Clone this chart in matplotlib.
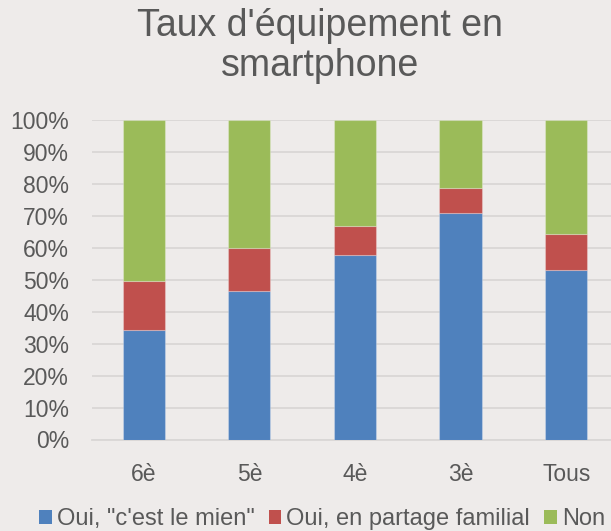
import matplotlib
matplotlib.use("Agg")
import matplotlib.pyplot as plt
from matplotlib.patches import Patch
import numpy as np

categories = ["6è", "5è", "4è", "3è", "Tous"]
oui_mien = [34.3, 46.5, 57.7, 70.8, 52.9]
oui_partage = [15.4, 13.3, 9.2, 8.0, 11.3]
non = [100 - a - b for a, b in zip(oui_mien, oui_partage)]
series_names = ['Oui, "c\'est le mien"', "Oui, en partage familial", "Non"]
yticks = list(range(0, 101, 10))
ytick_labels = [f"{v}%" for v in yticks]

plt.rcParams["font.family"] = ["Liberation Sans", "DejaVu Sans"]
bg = "#EEEBEA"
txt = "#595959"
colors = ["#4F81BD", "#C0504D", "#9BBB59"]

W, H = 611, 531
fig = plt.figure(figsize=(W / 100, H / 100), dpi=100, facecolor=bg)
ax = fig.add_axes([92 / W, 1 - 439.5 / H, 1 - 92 / W, (439.5 - 120) / H])
ax.set_facecolor(bg)

x = np.arange(len(categories))
bottom = np.zeros(len(categories))
for vals, c in zip([oui_mien, oui_partage, non], colors):
    ax.bar(x, vals, width=0.4, bottom=bottom, color=c, zorder=3,
           edgecolor=(1, 1, 1, 0.25), linewidth=0.8)
    bottom += np.array(vals)

ax.set_xlim(-0.49, 4.424)
ax.set_ylim(0, 100)
ax.set_yticks(yticks)
ax.set_yticklabels(ytick_labels)
ax.set_xticks(x)
ax.set_xticklabels(categories)
ax.grid(axis="y", color="#D9D7D6", linewidth=1.3, zorder=0)
ax.tick_params(axis="both", length=0, labelsize=16.5, colors=txt)
ax.tick_params(axis="y", pad=16.5)
ax.tick_params(axis="x", pad=17)
for s in ["top", "right", "left"]:
    ax.spines[s].set_visible(False)
ax.spines["bottom"].set_color("#D9D7D6")
ax.spines["bottom"].set_linewidth(1.3)

fig.text(320 / W, 1 - 36 / H, "Taux d'équipement en", ha="center",
         va="baseline", fontsize=27, color=txt)
fig.text(320 / W, 1 - 76 / H, "smartphone", ha="center",
         va="baseline", fontsize=27, color=txt)

handles = [Patch(facecolor=c, edgecolor="none") for c in colors]
leg = fig.legend(handles, series_names, loc="center left",
                 bbox_to_anchor=(39 / W, 1 - 519 / H), ncol=3, frameon=False,
                 fontsize=17, handlelength=0.54, handleheight=0.54,
                 handletextpad=0.21, columnspacing=0.6, borderaxespad=0,
                 borderpad=0)
for t in leg.get_texts():
    t.set_color(txt)

fig.savefig("out.png", dpi=100, facecolor=bg)
